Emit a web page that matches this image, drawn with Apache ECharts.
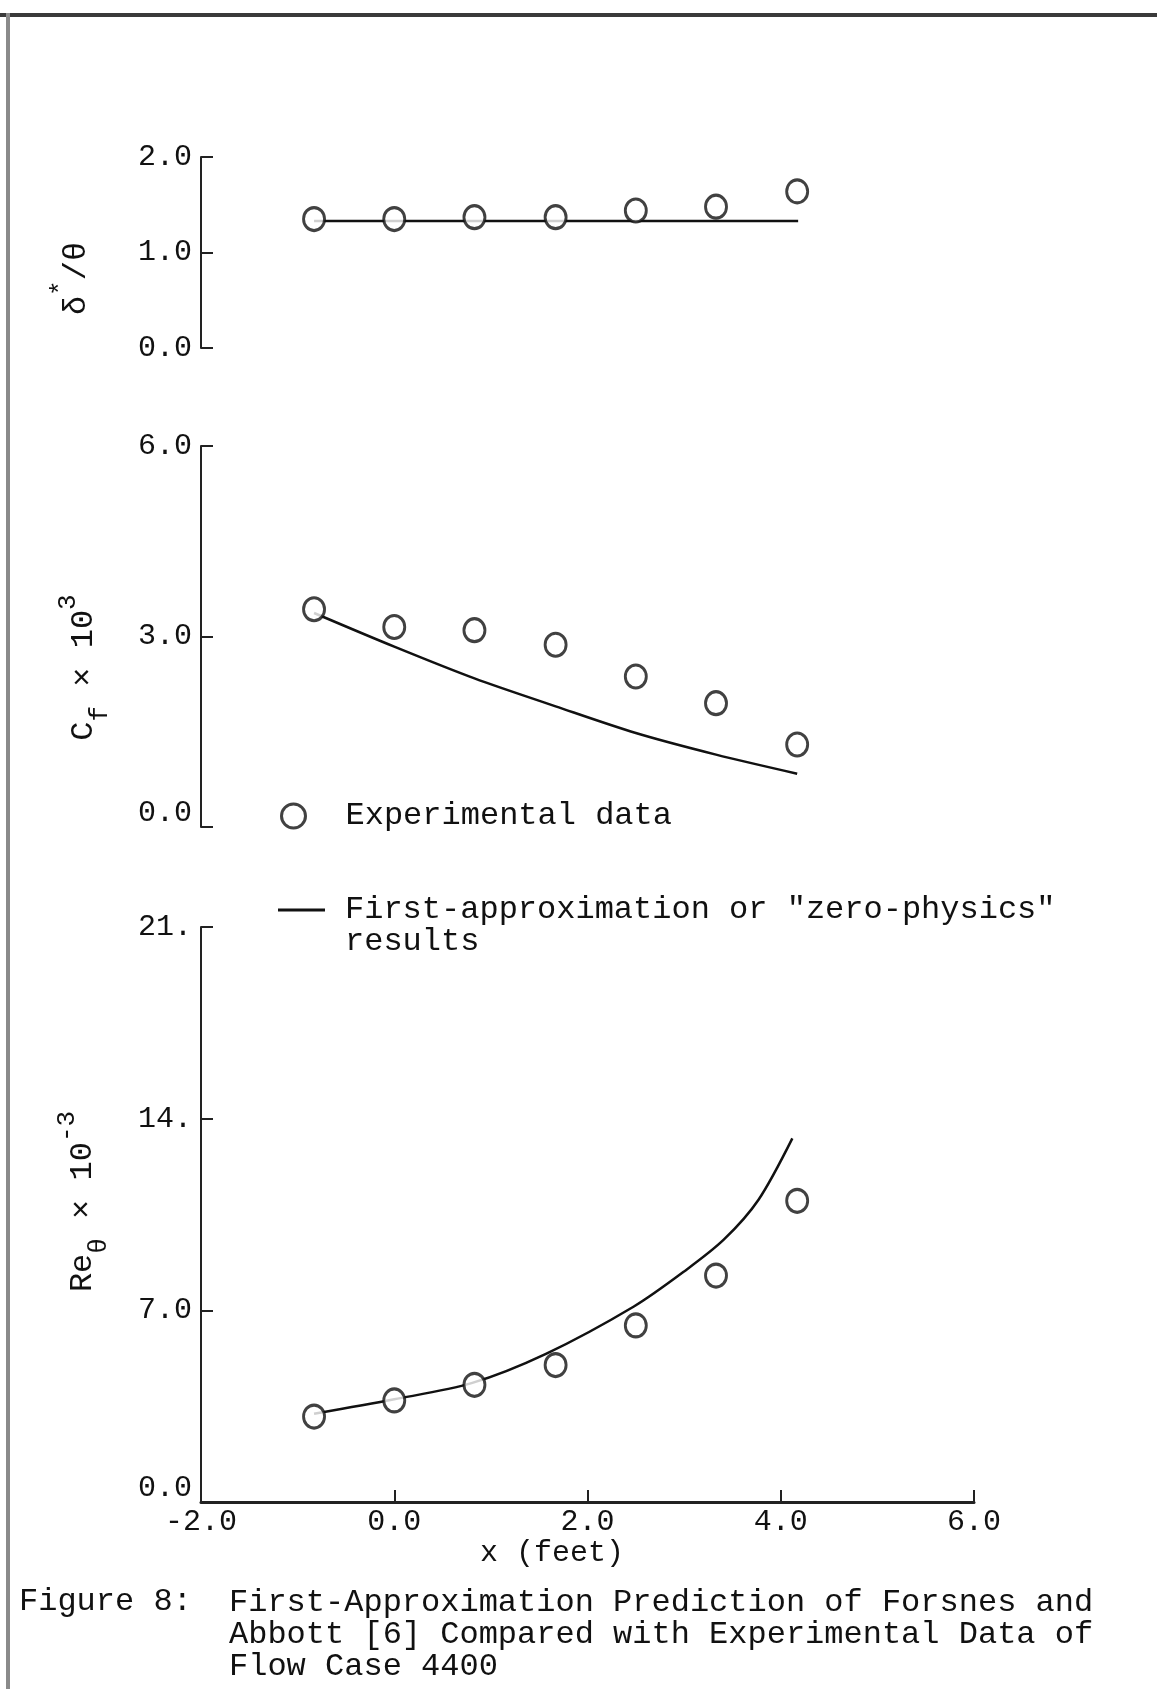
<!DOCTYPE html>
<html>
<head>
<meta charset="utf-8">
<script src="https://cdn.jsdelivr.net/npm/echarts@6/dist/echarts.min.js"></script>
<style>
  html, body { margin: 0; padding: 0; background: #ffffff; }
  #chart { width: 1157px; height: 1689px; }
</style>
</head>
<body>
<div id="chart"></div>
<script>
// ---------------- data ----------------
const xTickValues = [-2, 0, 2, 4, 6];
const xTickLabels = ['-2.0', '0.0', '2.0', '4.0', '6.0'];

const deltaTickValues = [0, 1, 2];
const deltaTickLabels = ['0.0', '1.0', '2.0'];
const cfTickValues = [0, 3, 6];
const cfTickLabels = ['0.0', '3.0', '6.0'];
const reTickValues = [0, 7, 14, 21];
const reTickLabels = ['0.0', '7.0', '14.', '21.'];

// experimental stations (feet)
const xExp = [-0.83, 0.0, 0.83, 1.67, 2.5, 3.33, 4.17];
// delta*/theta
const deltaExp = [1.35, 1.35, 1.37, 1.37, 1.44, 1.48, 1.64];
const deltaLineX = [-0.83, 4.18];
const deltaLineY = [1.33, 1.33];
// Cf x 10^3
const cfExp = [3.43, 3.15, 3.10, 2.87, 2.37, 1.95, 1.30];
const cfLineX = [-0.83, 0.0, 0.83, 1.67, 2.5, 3.33, 4.17];
const cfLineY = [3.37, 2.84, 2.34, 1.90, 1.48, 1.14, 0.84];
// Re_theta x 10^-3
const reExp = [3.12, 3.71, 4.28, 5.0, 6.45, 8.27, 11.0];
const reLineX = [-0.83, 0.0, 0.80, 1.57, 2.48, 3.0, 3.41, 3.77, 4.12];
const reLineY = [3.22, 3.75, 4.34, 5.41, 7.14, 8.42, 9.58, 11.04, 13.28];

const expName = 'Experimental data';
const lineName = 'First-approximation or "zero-physics" results';
const captionLead = 'Figure 8:';
const captionText = 'First-Approximation Prediction of Forsnes and\nAbbott [6] Compared with Experimental Data of\nFlow Case 4400';

// ---------------- helpers ----------------
const FONT = '"Liberation Mono", "DejaVu Sans Mono", monospace';
const INK = '#111111';
const zip = (a, b) => a.map((v, i) => [v, b[i]]);
const labelFmt = (vals, labs, lowMin) => (v) => {
  const i = vals.indexOf(Math.round(v * 1000) / 1000);
  if (i < 0) return '';
  return (v === 0 && lowMin) ? '{lo|' + labs[i] + '}' : labs[i];
};
const richLabel = { lo: { fontSize: 30, fontFamily: FONT, color: INK, padding: [0, 0, 28, 0] } };
const nameRich = {
  m: { fontSize: 32, fontFamily: FONT, color: INK, lineHeight: 58 },
  sup: { fontSize: 26, fontFamily: FONT, color: INK, lineHeight: 30, verticalAlign: 'top' },
  sub: { fontSize: 26, fontFamily: FONT, color: INK, lineHeight: 30, verticalAlign: 'bottom' }
};

function yAxisDef(grid, max, interval, vals, labs, lowMin, name, gap, pad) {
  return {
    type: 'value', gridIndex: grid, min: 0, max: max, interval: interval,
    name: name, nameLocation: 'middle', nameRotate: 90, nameGap: gap,
    nameTextStyle: { rich: nameRich, padding: pad },
    axisLine: { show: true, onZero: false, lineStyle: { color: '#222', width: 2 } },
    axisTick: { show: true, inside: true, length: 12, lineStyle: { color: '#222', width: 2 } },
    axisLabel: { fontSize: 30, fontFamily: FONT, color: INK, margin: 9, formatter: labelFmt(vals, labs, lowMin), rich: richLabel },
    splitLine: { show: false }
  };
}
function hiddenX(grid) {
  return { type: 'value', gridIndex: grid, min: -2, max: 6, interval: 2, show: false,
           axisLine: { onZero: false } };
}

const scatterStyle = { color: '#ffffff', borderColor: INK, borderWidth: 3 };
function scatterSeries(idx, data) {
  return {
    type: 'scatter', name: expName, xAxisIndex: idx, yAxisIndex: idx, data: data,
    symbol: 'circle', symbolSize: [21, 23], itemStyle: scatterStyle, z: 5, silent: true
  };
}
function lineSeries(idx, data) {
  return {
    type: 'line', name: lineName, xAxisIndex: idx, yAxisIndex: idx, data: data,
    showSymbol: false, smooth: 0.3,
    lineStyle: { color: INK, width: 2.5 }, itemStyle: { color: INK }, z: 3, silent: true
  };
}

const chart = echarts.init(document.getElementById('chart'), null, { renderer: 'canvas' });
chart.setOption({
  backgroundColor: '#ffffff',
  animation: false,
  textStyle: { fontFamily: FONT, color: INK },
  title: [
    { text: captionLead, left: 19, top: 1586, padding: 0,
      textStyle: { fontSize: 32, fontWeight: 'normal', fontFamily: FONT, color: INK, lineHeight: 32 } },
    { text: captionText, left: 229, top: 1586, padding: 0,
      textStyle: { fontSize: 32, fontWeight: 'normal', fontFamily: FONT, color: INK, lineHeight: 32.3 } }
  ],
  legend: [
    { data: [{ name: expName, icon: 'circle' }], left: 280, top: 800, itemWidth: 94, itemHeight: 24,
      selectedMode: false, padding: 0, itemStyle: { color: '#ffffff', borderColor: INK, borderWidth: 3 },
      textStyle: { fontSize: 32, fontFamily: FONT, color: INK } },
    { data: [{ name: lineName, icon: 'path://M0,14.5L47,14.5L47,17.5L0,17.5Z M62,0L62,0.01 M62,64L62,63.99 M0,0L0,0.01 M0,64L0,63.99' }],
      left: 278, top: 894, itemWidth: 62, itemHeight: 64, selectedMode: false, padding: 0,
      formatter: () => 'First-approximation or "zero-physics"\nresults',
      textStyle: { fontSize: 32, fontFamily: FONT, color: INK, lineHeight: 32 } }
  ],
  grid: [
    { left: 201, right: 183, top: 157, height: 191 },
    { left: 201, right: 183, top: 446, height: 381 },
    { left: 201, right: 183, top: 927, height: 575 }
  ],
  xAxis: [
    hiddenX(0), hiddenX(1),
    {
      type: 'value', gridIndex: 2, min: -2, max: 6, interval: 2,
      name: 'x (feet)', nameLocation: 'middle', nameGap: 36,
      nameTextStyle: { fontSize: 30, fontFamily: FONT, color: INK, padding: [0, 71, 0, 0] },
      axisLine: { show: true, onZero: false, lineStyle: { color: '#222', width: 3 } },
      axisTick: { show: true, inside: true, length: 12, lineStyle: { color: '#222', width: 2 } },
      axisLabel: { fontSize: 30, fontFamily: FONT, color: INK, margin: 5, formatter: labelFmt(xTickValues, xTickLabels, false) },
      splitLine: { show: false }
    }
  ],
  yAxis: [
    yAxisDef(0, 2, 1, deltaTickValues, deltaTickLabels, false, '{m|δ}{sup|*}{m|/θ}', 95, [0, 52, 0, 0]),
    yAxisDef(1, 6, 3, cfTickValues, cfTickLabels, true, '{m|C}{sub|f}{m| × 10}{sup|3}', 88, [0, 62, 0, 0]),
    yAxisDef(2, 21, 7, reTickValues, reTickLabels, true, '{m|Re}{sub|θ}{m| × 10}{sup|-3}', 89, [0, 0, 0, 26])
  ],
  graphic: [
    { type: 'rect', left: 0, top: 13, shape: { width: 1157, height: 4 }, style: { fill: '#3a3a3a' }, silent: true },
    { type: 'rect', left: 6, top: 13, shape: { width: 4, height: 1676 }, style: { fill: '#8a8a8a' }, silent: true }
  ],
  series: [
    lineSeries(0, zip(deltaLineX, deltaLineY)),
    scatterSeries(0, zip(xExp, deltaExp)),
    lineSeries(1, zip(cfLineX, cfLineY)),
    scatterSeries(1, zip(xExp, cfExp)),
    lineSeries(2, zip(reLineX, reLineY)),
    scatterSeries(2, zip(xExp, reExp))
  ]
});
</script>
</body>
</html>
